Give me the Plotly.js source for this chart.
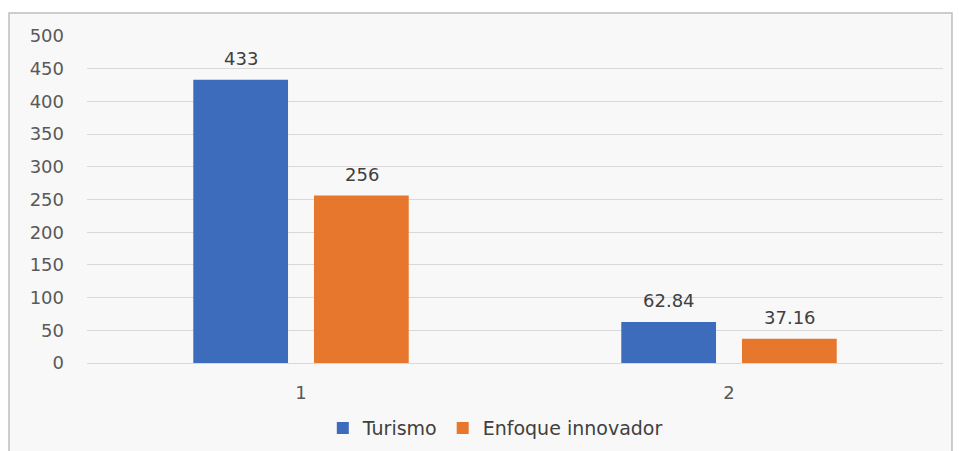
<!DOCTYPE html>
<html>
<head>
<meta charset="utf-8">
<script src="https://cdn.plot.ly/plotly-3.0.1.min.js"></script>
<style>
html,body{margin:0;padding:0;background:#ffffff;}
#chart{width:959px;height:451px;}
</style>
</head>
<body>
<div id="chart"></div>
<script>
const categories = ["1", "2"];
const turismo = [433, 62.84];
const enfoque = [256, 37.16];
const seriesNames = ["Turismo", "Enfoque innovador"];
const yTicks = [0, 50, 100, 150, 200, 250, 300, 350, 400, 450, 500];

const labelFont = {family: "DejaVu Sans", size: 18, color: "#404040"};

const traces = [
  {
    type: "bar", name: seriesNames[0], x: categories, y: turismo,
    marker: {color: "#3d6cbd"}
  },
  {
    type: "bar", name: seriesNames[1], x: categories, y: enfoque,
    marker: {color: "#e8772e"}
  }
];

// data labels placed above each bar (offset = half of the group slot)
const annotations = [];
[turismo, enfoque].forEach((vals, si) => {
  vals.forEach((v, ci) => {
    annotations.push({
      x: ci, y: v, xref: "x", yref: "y",
      text: String(v), showarrow: false,
      xanchor: "center", yanchor: "bottom",
      xshift: si === 0 ? -60.5 : 60.5, yshift: 9,
      font: labelFont
    });
  });
});

const layout = {
  width: 959, height: 451,
  margin: {l: 87, r: 16, t: 36, b: 88, autoexpand: false},
  paper_bgcolor: "#ffffff",
  plot_bgcolor: "rgba(0,0,0,0)",
  barmode: "group",
  bargap: 0.436,
  bargroupgap: 0.215,
  showlegend: true,
  legend: {
    orientation: "h", x: 0.477, xanchor: "center", y: -0.199, yanchor: "middle",
    font: {family: "DejaVu Sans", size: 19, color: "#404040"},
    itemwidth: 30, tracegroupgap: 0, bgcolor: "rgba(0,0,0,0)"
  },
  xaxis: {
    type: "category", range: [-0.5, 1.5],
    tickfont: {family: "DejaVu Sans", size: 18, color: "#595959"},
    ticks: "", ticklabelstandoff: 17,
    showline: false, showgrid: false, zeroline: false, fixedrange: true
  },
  yaxis: {
    range: [0, 500], tickvals: yTicks, ticktext: yTicks.map(String),
    tickfont: {family: "DejaVu Sans", size: 18, color: "#595959"},
    ticks: "", ticklabelstandoff: 22,
    showgrid: true, gridcolor: "#d9d9d9", gridwidth: 1,
    zeroline: true, zerolinecolor: "#d9d9d9", zerolinewidth: 1,
    showline: false, fixedrange: true
  },
  annotations: annotations,
  shapes: [
    {
      type: "rect", xref: "paper", yref: "paper", layer: "below",
      x0: -0.0911, x1: 1.0105, y0: -0.32, y1: 1.0703,
      fillcolor: "#f8f8f8", line: {color: "#bdbdbd", width: 1.5}
    }
  ],
  hovermode: false
};

Plotly.newPlot("chart", traces, layout, {displayModeBar: false, staticPlot: true});
</script>
</body>
</html>
